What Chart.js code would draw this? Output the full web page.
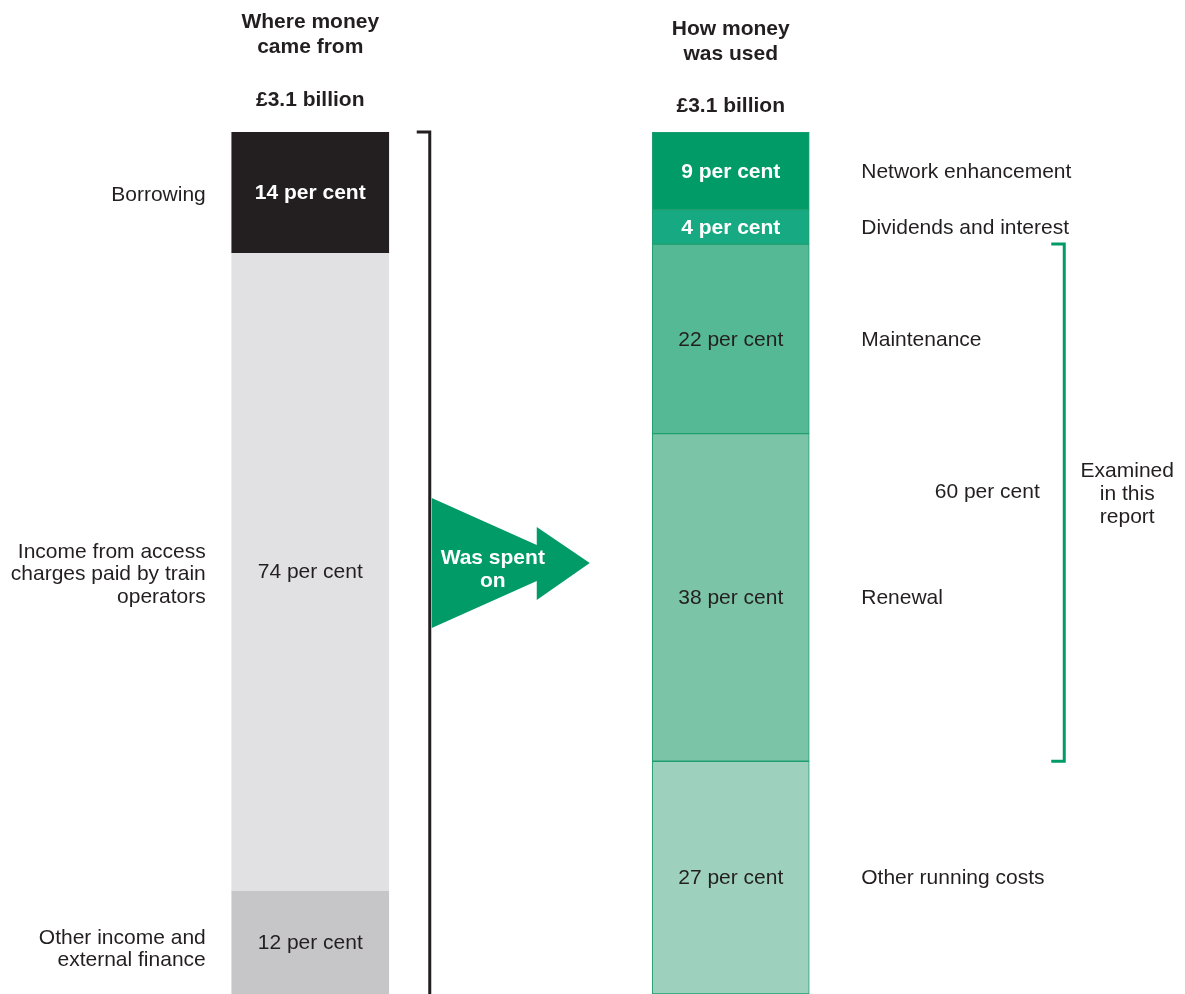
<!DOCTYPE html>
<html>
<head>
<meta charset="utf-8">
<title>Where money came from and how it was used</title>
<script src="https://cdn.jsdelivr.net/npm/chart.js@4/dist/chart.umd.min.js"></script>
<style>
  html, body { margin: 0; padding: 0; background: #ffffff; }
  #wrap { width: 1185px; height: 994px; }
</style>
</head>
<body>
<div id="wrap"><canvas id="chart" width="1185" height="994"></canvas></div>
<script>
// Funding sources (left column), per cent of total
const sourceLabels = ['Borrowing', 'Income from access\ncharges paid by train\noperators', 'Other income and\nexternal finance'];
const sourceValues = [14, 74, 12];
const sourceColors = ['#231f20', '#e1e1e3', '#c6c6c8'];
const sourceBold = [true, false, false];

// Uses of funds (right column), per cent of total
const useLabels = ['Network enhancement', 'Dividends and interest', 'Maintenance', 'Renewal', 'Other running costs'];
const useValues = [9, 4, 22, 38, 27];
const useColors = ['#009b67', '#17a982', '#55b995', '#7bc4a7', '#9dd1bd'];
const useBold = [true, true, false, false, false];

// Columns and headings
const columns = ['Where money\ncame from', 'How money\nwas used'];
const totals = ['£3.1 billion', '£3.1 billion'];
const examinedShare = '60 per cent';
const examinedNote = 'Examined\nin this\nreport';
const examinedRange = [2, 3]; // Maintenance .. Renewal
const arrowText = 'Was spent\non';

const FONT = '"Liberation Sans", Arial, Helvetica, sans-serif';
const INK = '#231f20';
const GREEN = '#009b67';

const datasets = [];
sourceValues.forEach((v, i) => {
  datasets.push({
    label: sourceLabels[i],
    data: [v, null],
    backgroundColor: sourceColors[i],
    borderWidth: 0,
    side: 0, idx: i
  });
});
useValues.forEach((v, i) => {
  datasets.push({
    label: useLabels[i],
    data: [null, v],
    backgroundColor: useColors[i],
    borderColor: '#1f9e70',
    borderWidth: 1,
    borderSkipped: false,
    side: 1, idx: i
  });
});

function drawLines(ctx, text, x, y, lh) {
  const lines = text.split('\n');
  const start = y - (lines.length - 1) * lh / 2;
  lines.forEach((l, k) => ctx.fillText(l, x, start + k * lh));
}

const annotations = {
  id: 'annotations',
  afterDatasetsDraw(chart) {
    const ctx = chart.ctx;
    const area = chart.chartArea;
    ctx.save();
    ctx.textBaseline = 'middle';

    // segment value labels and side captions
    chart.data.datasets.forEach((ds, di) => {
      const meta = chart.getDatasetMeta(di);
      const el = meta.data[ds.side];
      if (!el) return;
      const cy = (el.y + el.base) / 2;
      const bold = ds.side === 0 ? sourceBold[ds.idx] : useBold[ds.idx];
      ctx.font = (bold ? 'bold ' : '') + '21px ' + FONT;
      ctx.fillStyle = bold ? '#ffffff' : INK;
      ctx.textAlign = 'center';
      const val = ds.side === 0 ? sourceValues[ds.idx] : useValues[ds.idx];
      ctx.fillText(val + ' per cent', el.x, cy + 1);

      ctx.font = '21px ' + FONT;
      ctx.fillStyle = INK;
      if (ds.side === 0) {
        ctx.textAlign = 'right';
        const nudge = ds.idx === sourceValues.length - 1 ? 7 : 3;
        drawLines(ctx, ds.label, el.x - el.width / 2 - 26, cy + nudge, 22.5);
      } else {
        ctx.textAlign = 'left';
        drawLines(ctx, ds.label, el.x + el.width / 2 + 52, cy + 1, 22.5);
      }
    });

    // column headings
    const xs = chart.scales.x;
    ctx.font = 'bold 21px ' + FONT;
    ctx.fillStyle = INK;
    ctx.textAlign = 'center';
    [0, 1].forEach(i => {
      const x = xs.getPixelForValue(i);
      const off = i === 0 ? 0 : 7;
      drawLines(ctx, columns[i], x, 35 + off, 25);
      ctx.fillText(totals[i], x, 100 + off - (i === 1 ? 1 : 0));
    });

    // black bracket spanning the funding column
    const leftEl = chart.getDatasetMeta(0).data[0];
    const bx = leftEl.x + leftEl.width / 2 + 41;
    ctx.strokeStyle = INK;
    ctx.lineWidth = 3;
    ctx.beginPath();
    ctx.moveTo(bx - 13, area.top);
    ctx.lineTo(bx, area.top);
    ctx.lineTo(bx, area.bottom);
    ctx.stroke();

    // arrow "Was spent on"
    const ay = (area.top + area.bottom) / 2;
    const ax = bx + 2;
    ctx.fillStyle = GREEN;
    ctx.beginPath();
    ctx.moveTo(ax, ay - 65);
    ctx.lineTo(ax + 105, ay - 18);
    ctx.lineTo(ax + 105, ay - 36);
    ctx.lineTo(ax + 158, ay);
    ctx.lineTo(ax + 105, ay + 37);
    ctx.lineTo(ax + 105, ay + 18);
    ctx.lineTo(ax, ay + 65);
    ctx.closePath();
    ctx.fill();
    ctx.font = 'bold 21px ' + FONT;
    ctx.fillStyle = '#ffffff';
    ctx.textAlign = 'center';
    drawLines(ctx, arrowText, ax + 61, ay + 7, 23);

    // green bracket over the examined segments
    const rightStart = sourceValues.length;
    const topEl = chart.getDatasetMeta(rightStart + examinedRange[0]).data[1];
    const botEl = chart.getDatasetMeta(rightStart + examinedRange[1]).data[1];
    const gTop = Math.min(topEl.y, topEl.base);
    const gBot = Math.max(botEl.y, botEl.base);
    const gx = topEl.x + topEl.width / 2 + 255;
    ctx.strokeStyle = GREEN;
    ctx.lineWidth = 3;
    ctx.beginPath();
    ctx.moveTo(gx - 13, gTop);
    ctx.lineTo(gx, gTop);
    ctx.lineTo(gx, gBot);
    ctx.lineTo(gx - 13, gBot);
    ctx.stroke();

    const gMid = (gTop + gBot) / 2;
    ctx.font = '21px ' + FONT;
    ctx.fillStyle = INK;
    ctx.textAlign = 'center';
    ctx.fillText(examinedShare, gx - 77, gMid - 10);
    drawLines(ctx, examinedNote, gx + 63, gMid - 8, 23);

    ctx.restore();
  }
};

new Chart(document.getElementById('chart'), {
  type: 'bar',
  data: { labels: columns, datasets },
  options: {
    responsive: false,
    animation: false,
    layout: { padding: { left: 100, right: 244, top: 132, bottom: 0 } },
    barThickness: 157,
    scales: {
      x: { stacked: true, display: false },
      y: { stacked: true, display: false, min: 0, max: 100, reverse: true }
    },
    plugins: {
      legend: { display: false },
      tooltip: { enabled: false },
      title: { display: false }
    }
  },
  plugins: [annotations]
});
</script>
</body>
</html>
